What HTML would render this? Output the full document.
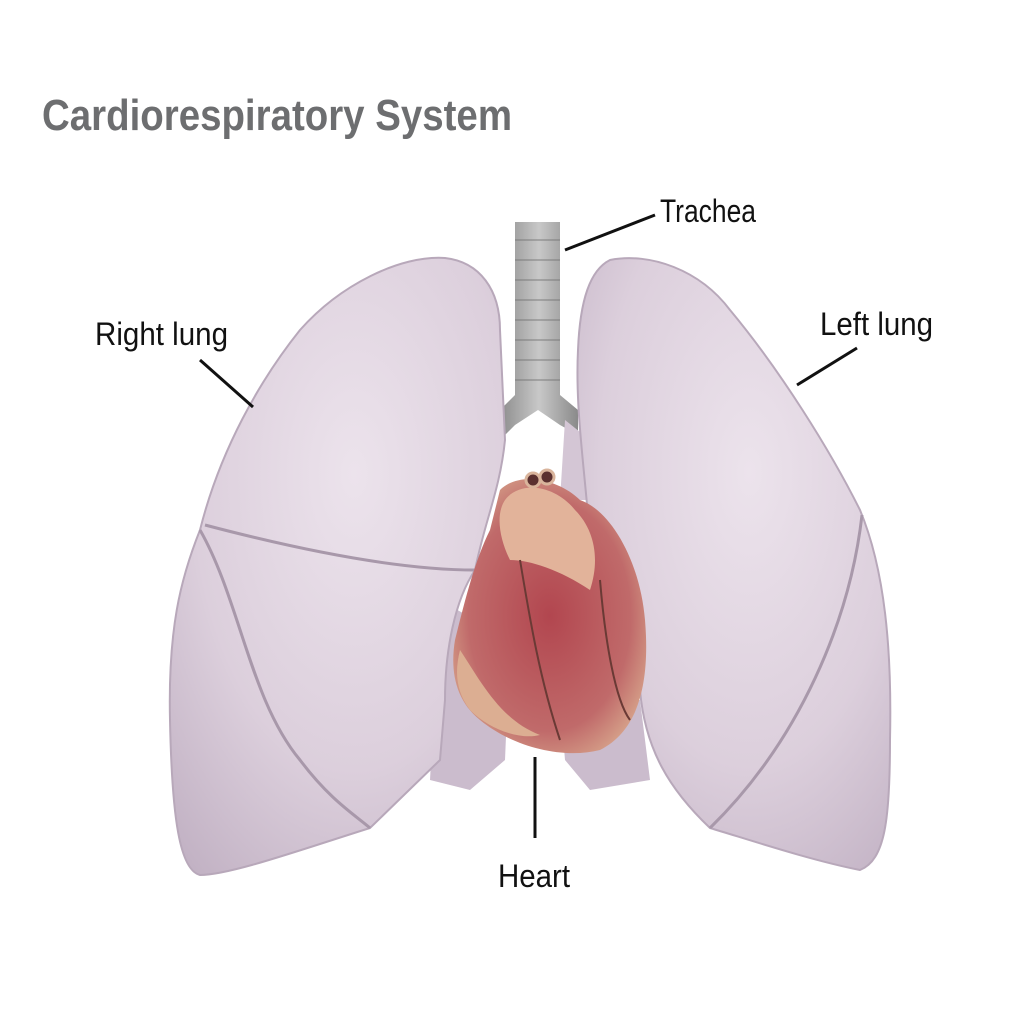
<!DOCTYPE html>
<html><head><meta charset="utf-8"><style>
html,body{margin:0;padding:0;background:#fff;}
svg{display:block;}
</style></head><body>
<svg width="1020" height="1024" viewBox="0 0 1020 1024" xmlns="http://www.w3.org/2000/svg">
<defs>
<radialGradient id="lg" cx="0.55" cy="0.35" r="0.8">
<stop offset="0" stop-color="#ece3ec"/><stop offset="0.6" stop-color="#dccfdc"/><stop offset="1" stop-color="#c2b2c4"/>
</radialGradient>
<radialGradient id="hg" cx="0.5" cy="0.5" r="0.6">
<stop offset="0" stop-color="#b2464f"/><stop offset="0.7" stop-color="#c06a6a"/><stop offset="1" stop-color="#d9a98e"/>
</radialGradient>
<linearGradient id="tg" x1="0" x2="1"><stop offset="0" stop-color="#8c8c8c"/><stop offset="0.5" stop-color="#c8c8c8"/><stop offset="1" stop-color="#8a8a8a"/></linearGradient>
</defs>
<rect width="1020" height="1024" fill="#fff"/>
<text x="42" y="130" font-family="Liberation Sans, sans-serif" font-weight="bold" font-size="44" fill="#6d6e70" textLength="470" lengthAdjust="spacingAndGlyphs">Cardiorespiratory System</text>

<!-- trachea -->
<path d="M515 222 L560 222 L560 395 L578 410 L578 435 L560 425 L538 410 L515 425 L500 440 L500 410 L515 395 Z" fill="url(#tg)"/>
<g stroke="#777" stroke-width="1.5" opacity="0.6">
<line x1="515" y1="240" x2="560" y2="240"/><line x1="515" y1="260" x2="560" y2="260"/><line x1="515" y1="280" x2="560" y2="280"/><line x1="515" y1="300" x2="560" y2="300"/><line x1="515" y1="320" x2="560" y2="320"/><line x1="515" y1="340" x2="560" y2="340"/><line x1="515" y1="360" x2="560" y2="360"/><line x1="515" y1="380" x2="560" y2="380"/>
</g>

<!-- back lobes -->
<path d="M440 600 L510 640 L505 760 L470 790 L430 780 Z" fill="#cbbccd"/>
<path d="M560 700 L640 700 L650 780 L590 790 L565 760 Z" fill="#cbbccd"/>
<path d="M565 420 L590 440 L595 500 L560 500 Z" fill="#d4c6d5"/>

<!-- right lung -->
<path d="M445 258 C480 262 500 290 500 330 L505 440 C500 490 485 520 475 570 C455 600 445 650 445 700 L440 760 L370 828 C300 850 230 875 200 875 C180 870 172 820 170 720 C168 630 180 580 200 530 C220 450 260 380 300 330 C340 285 400 255 445 258 Z" fill="url(#lg)" stroke="#b8a8ba" stroke-width="2"/>
<path d="M205 525 C300 550 400 570 475 570" fill="none" stroke="#a898aa" stroke-width="3"/>
<path d="M200 530 C240 600 250 700 300 760 C330 800 355 815 370 828" fill="none" stroke="#a898aa" stroke-width="3"/>

<!-- left lung -->
<path d="M610 260 C650 252 700 270 730 310 C780 370 830 450 860 510 C885 570 892 650 890 740 C890 820 885 860 860 870 C810 860 750 840 710 828 C670 790 645 750 640 690 C630 640 600 610 590 540 C585 470 575 410 578 350 C580 300 590 270 610 260 Z" fill="url(#lg)" stroke="#b8a8ba" stroke-width="2"/>
<path d="M862 515 C850 620 800 740 710 828" fill="none" stroke="#a898aa" stroke-width="3"/>

<!-- heart -->
<path d="M500 490 C520 470 560 480 580 500 C610 510 640 560 645 620 C650 680 640 730 600 750 C560 760 510 745 480 720 C455 700 450 670 455 640 C465 600 475 560 490 530 Z" fill="url(#hg)"/>
<path d="M505 500 C520 480 555 485 575 510 C595 530 600 560 590 590 C560 570 530 560 510 560 C500 540 495 515 505 500 Z" fill="#e2b39a"/>
<path d="M460 650 C480 680 500 720 540 735 C520 740 490 730 470 710 C455 690 455 670 460 650 Z" fill="#dcae92"/>
<circle cx="533" cy="480" r="7" fill="#5a3030" stroke="#d9b49c" stroke-width="3"/>
<circle cx="547" cy="477" r="7" fill="#5a3030" stroke="#d9b49c" stroke-width="3"/>
<path d="M520 560 C530 620 540 680 560 740 M600 580 C605 640 615 700 630 720" stroke="#6a3a35" stroke-width="2" fill="none"/>

<!-- leader lines -->
<g stroke="#111" stroke-width="3">
<line x1="565" y1="250" x2="655" y2="215"/>
<line x1="200" y1="360" x2="253" y2="407"/>
<line x1="797" y1="385" x2="857" y2="348"/>
<line x1="535" y1="757" x2="535" y2="838"/>
</g>
<g font-family="Liberation Sans, sans-serif" font-size="32" fill="#111">
<text x="660" y="222" textLength="96" lengthAdjust="spacingAndGlyphs">Trachea</text>
<text x="95" y="345" textLength="133" lengthAdjust="spacingAndGlyphs">Right lung</text>
<text x="820" y="335" textLength="113" lengthAdjust="spacingAndGlyphs">Left lung</text>
<text x="498" y="887" textLength="72" lengthAdjust="spacingAndGlyphs">Heart</text>
</g>
</svg>
</body></html>
